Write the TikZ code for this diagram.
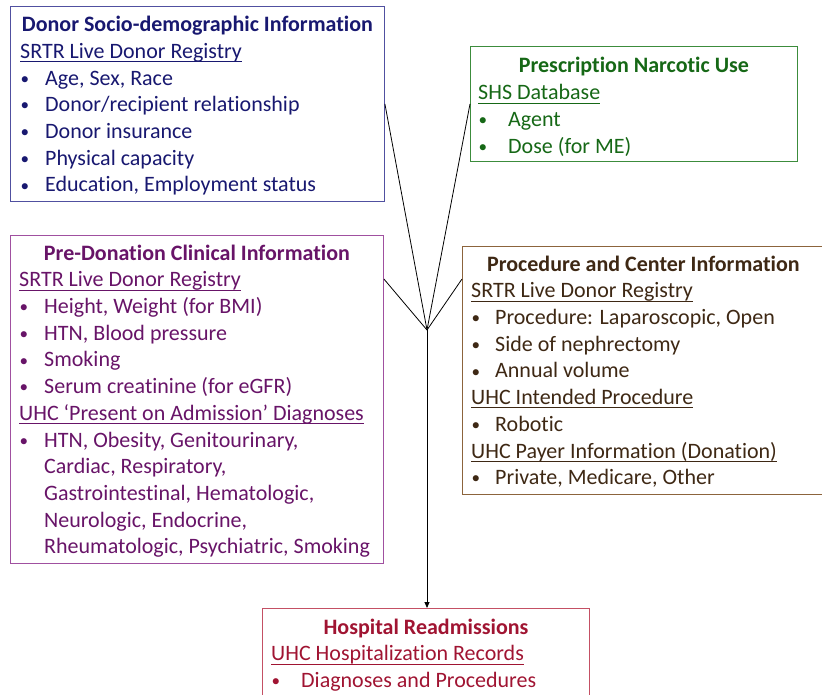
\documentclass[tikz,border=0pt]{standalone}
\usepackage{fontspec}
\setmainfont{Carlito}[Ligatures=NoCommon]
\usetikzlibrary{positioning, calc, arrows.meta}

\definecolor{donorblue}{RGB}{24,24,112}
\definecolor{donorline}{RGB}{80,80,160}
\definecolor{rxgreen}{RGB}{22,104,22}
\definecolor{rxline}{RGB}{60,140,60}
\definecolor{clinpurple}{RGB}{104,20,104}
\definecolor{clinline}{RGB}{160,80,160}
\definecolor{procbrown}{RGB}{62,40,20}
\definecolor{procline}{RGB}{140,100,60}
\definecolor{readmred}{RGB}{160,20,50}
\definecolor{readmline}{RGB}{196,80,100}

% bullet item with hanging text, and underlined source heading
\newcommand{\itm}[2][25pt]{\makebox[#1][l]{\hspace{0.5pt}\raisebox{0.8pt}{\scalebox{0.78}{\textbullet}}}#2}
\newcommand{\uln}[1]{\underline{\raisebox{0pt}[\height][1.5pt]{#1}}}

\begin{document}
\begin{tikzpicture}[x=1pt, y=-1pt]
    % Define styles
    \tikzset{
        infobox/.style={draw=#1, line width=0.9pt, anchor=north west, inner sep=0pt},
        boxtitle/.style={anchor=base, inner sep=0pt, font=\fontsize{22}{26.7}\selectfont\bfseries},
        boxlist/.style={anchor=north west, align=left, inner sep=0pt, font=\fontsize{22}{26.7}\selectfont},
        feed/.style={draw, line width=0.8pt},
    }
    \useasboundingbox (0,0) rectangle (822,695);

    % Boxes
    \node[infobox=donorline, minimum width=374pt, minimum height=195pt] (donor) at (10,6) {};
    \node[infobox=rxline, minimum width=327pt, minimum height=115pt] (presc) at (470,46) {};
    \node[infobox=clinline, minimum width=373pt, minimum height=328pt] (predon) at (10,235) {};
    \node[infobox=procline, minimum width=366pt, minimum height=248pt] (proc) at (462,246) {};
    \node[infobox=readmline, minimum width=327pt, minimum height=100pt] (hosp) at (262,608) {};

    % Donor socio-demographic
    \node[boxtitle, text=donorblue] (donortitle) at ([yshift=-25.5pt]donor.north) {Donor Socio-demographic Information};
    \node[boxlist, text=donorblue] (donorlist) at ([xshift=10pt, yshift=-33.5pt]donor.north west)
        {\strut\uln{SRTR Live Donor Registry}\\
         \itm{Age, Sex, Race}\\
         \itm{Donor/recipient relationship}\\
         \itm{Donor insurance}\\
         \itm{Physical capacity}\\
         \itm{Education, Employment status}};

    % Prescription narcotic use
    \node[boxtitle, text=rxgreen] (presctitle) at ([yshift=-27pt]presc.north) {Prescription Narcotic Use};
    \node[boxlist, text=rxgreen] (presclist) at ([xshift=8pt, yshift=-35pt]presc.north west)
        {\strut\uln{SHS Database}\\
         \itm[30pt]{Agent}\\
         \itm[30pt]{Dose (for ME)}};

    % Pre-donation clinical
    \node[boxtitle, text=clinpurple] (predontitle) at ([yshift=-25pt]predon.north) {Pre-Donation Clinical Information};
    \node[boxlist, text=clinpurple] (predonlist) at ([xshift=9pt, yshift=-33pt]predon.north west)
        {\strut\uln{SRTR Live Donor Registry}\\
         \itm{Height, Weight (for BMI)}\\
         \itm{HTN, Blood pressure}\\
         \itm{Smoking}\\
         \itm{Serum creatinine (for eGFR)}\\
         \uln{UHC ‘Present on Admission’ Diagnoses}\\
         \itm{HTN, Obesity, Genitourinary,}\\
         \hspace*{25pt}Cardiac, Respiratory,\\
         \hspace*{25pt}Gastrointestinal, Hematologic,\\
         \hspace*{25pt}Neurologic, Endocrine,\\
         \hspace*{25pt}Rheumatologic, Psychiatric, Smoking};

    % Procedure and center
    \node[boxtitle, text=procbrown] (proctitle) at ([xshift=-2pt, yshift=-25pt]proc.north) {Procedure and Center Information};
    \node[boxlist, text=procbrown] (proclist) at ([xshift=9pt, yshift=-33pt]proc.north west)
        {\strut\uln{SRTR Live Donor Registry}\\
         \itm[24pt]{Procedure: Laparoscopic, Open}\\
         \itm[24pt]{Side of nephrectomy}\\
         \itm[24pt]{Annual volume}\\
         \uln{UHC Intended Procedure}\\
         \itm[24pt]{Robotic}\\
         \uln{UHC Payer Information (Donation)}\\
         \itm[24pt]{Private, Medicare, Other}};

    % Hospital readmissions
    \node[boxtitle, text=readmred] (hosptitle) at ([yshift=-26pt]hosp.north) {Hospital Readmissions};
    \node[boxlist, text=readmred] (hosplist) at ([xshift=9pt, yshift=-34pt]hosp.north west)
        {\strut\uln{UHC Hospitalization Records}\\
         \itm[30pt]{Diagnoses and Procedures}};

    % Connectors
    \coordinate (hub) at (427,330);
    \draw[feed] (donor.east) -- (hub);
    \draw[feed] (presc.west) -- (hub);
    \draw[feed] ([yshift=-44pt]predon.north east) -- (hub);
    \draw[feed] ([yshift=-33pt]proc.north west) -- (hub);
    \draw[feed, -{Triangle[length=6pt, width=5pt]}] (hub) -- (hub |- hosp.north);
\end{tikzpicture}
\end{document}
